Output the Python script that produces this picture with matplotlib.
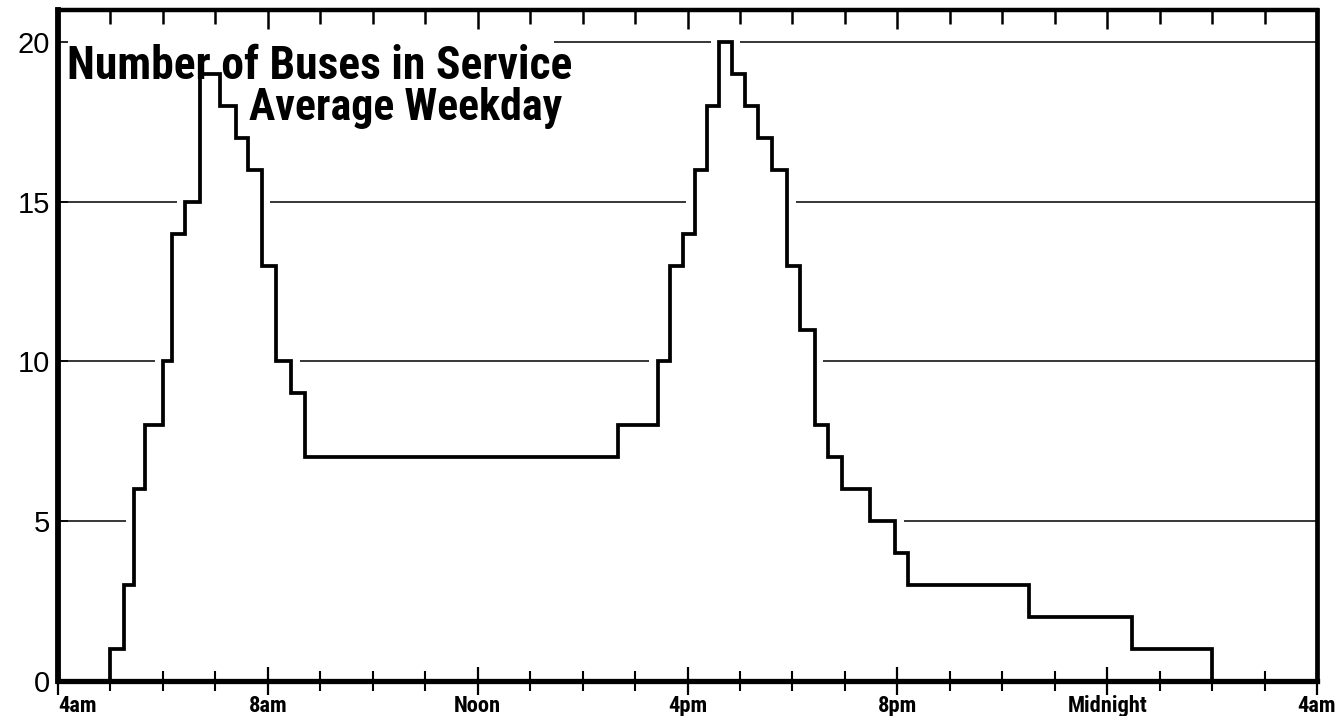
import os
import matplotlib
matplotlib.use("Agg")
import matplotlib.pyplot as plt
from matplotlib import font_manager as fm
from matplotlib.ticker import FixedLocator, MultipleLocator
import numpy as np

# ---------------- data (clock hours; 28 = 4am next day) ----------------
step_edges = [4.0, 5.0, 5.26, 5.45, 5.65, 6.0, 6.18, 6.43, 6.7, 7.09, 7.4, 7.63,
              7.88, 8.16, 8.45, 8.7, 14.68, 15.43, 15.67, 15.91, 16.14, 16.37,
              16.61, 16.85, 17.09, 17.34, 17.61, 17.9, 18.15, 18.43, 18.68,
              18.95, 19.47, 19.96, 20.21, 22.51, 24.48, 26.0, 28.0]
buses = [0, 1, 3, 6, 8, 10, 14, 15, 19, 18, 17, 16, 13, 10, 9, 7,
         8, 10, 13, 14, 16, 18, 20, 19, 18, 17, 16, 13, 11, 8, 7,
         6, 5, 4, 3, 2, 1, 0]
hour_ticks = [4, 8, 12, 16, 20, 24, 28]
hour_labels = ["4am", "8am", "Noon", "4pm", "8pm", "Midnight", "4am"]
y_ticks = [0, 5, 10, 15, 20]
grid_levels = [5, 10, 15, 20]
title_line1 = "Number of Buses in Service"
title_line2 = "Average Weekday"


# ---------------- pick a condensed bold face if one is installed ----------------
def pick_condensed_bold():
    best, best_score = None, -1
    for f in fm.fontManager.ttflist:
        name = f.name.lower()
        fn = os.path.basename(f.fname).lower()
        if any(k in fn or k in name for k in ("mono", "serif", "italic", "oblique", "cjk")):
            continue
        if f.style != "normal":
            continue
        cond = ("narrow" in name or "narrow" in fn or "condensed" in name or "condensed" in fn
                or f.stretch in ("condensed", "semi-condensed", "extra-condensed", "ultra-condensed"))
        if not cond:
            continue
        w = f.weight if isinstance(f.weight, int) else {"bold": 700, "normal": 400}.get(f.weight, 400)
        score = 0
        if "bold" in fn or w >= 700:
            score += 10
        if "semibold" in fn or "extrabold" in fn or "black" in fn or "light" in fn or "thin" in fn:
            score -= 6
        if "semicondensed" in fn or "semi-condensed" in str(f.stretch):
            score -= 2
        if "extracondensed" in fn:
            score += 1
        for pref, bonus in (("liberation", 5), ("roboto", 4), ("dejavu", 3), ("opensans", 3), ("noto", 2)):
            if pref in fn:
                score += bonus
                break
        if score > best_score:
            best, best_score = f.fname, score
    if best is None:
        return fm.FontProperties(family=["DejaVu Sans"], weight="bold")
    return fm.FontProperties(fname=best)


COND = pick_condensed_bold()
REG = ["Liberation Sans", "DejaVu Sans"]

W, H = 1339, 716
fig = plt.figure(figsize=(W / 100, H / 100), dpi=100)
L, R, B, T = 58, 1317, 681, 10
ax = fig.add_axes([L / W, 1 - B / H, (R - L) / W, (B - T) / H])
ax.set_xlim(4, 28)
ax.set_ylim(0, 21)

# step curve
ax.stairs(buses, step_edges, color="black", lw=2.7, baseline=None, zorder=3)

# broken horizontal guide lines (only above the curve, with small gaps)
edges = np.array(step_edges)
vals = np.array(buses)
gap = 0.16
title_end = 13.45
n = len(vals)
for lev in grid_levels:
    below = vals < lev
    i = 0
    while i < n:
        if below[i]:
            j = i
            while j + 1 < n and below[j + 1]:
                j += 1
            x0, x1 = edges[i], edges[j + 1]
            if i > 0:
                x0 += gap
            if j + 1 < n:
                x1 -= gap
            if lev == 20:
                x0 = max(x0, title_end)
            if x1 > x0:
                ax.hlines(lev, x0, x1, color="black", lw=1.1, zorder=1)
            i = j + 1
        else:
            i += 1

# spines
for side, lw in (("left", 4.2), ("bottom", 3.8), ("top", 3.2), ("right", 3.4)):
    ax.spines[side].set_linewidth(lw)
    ax.spines[side].set_capstyle("projecting")

# x ticks (bottom: crossing the axis)
ax.xaxis.set_major_locator(FixedLocator(hour_ticks))
ax.xaxis.set_minor_locator(MultipleLocator(1))
ax.set_xticklabels(hour_labels)
ax.tick_params(axis="x", which="major", direction="inout", length=20, width=1.6, pad=0)
ax.tick_params(axis="x", which="minor", direction="inout", length=14, width=1.5)
xlabs = ax.get_xticklabels()
for t in xlabs:
    t.set_fontproperties(COND)
    t.set_fontsize(15)
xlabs[0].set_horizontalalignment("left")

# y ticks
ax.set_yticks(y_ticks)
ax.set_yticklabels([str(v) for v in y_ticks], fontfamily=REG, fontsize=21)
ax.tick_params(axis="y", direction="in", length=7, width=1.2, pad=6)

# top ticks (inward only)
axt = ax.twiny()
axt.set_xlim(4, 28)
axt.xaxis.set_major_locator(FixedLocator(hour_ticks))
axt.xaxis.set_minor_locator(MultipleLocator(1))
axt.tick_params(axis="x", which="major", direction="in", length=14, width=1.8, labeltop=False)
axt.tick_params(axis="x", which="minor", direction="in", length=10, width=1.8)
for s in axt.spines.values():
    s.set_visible(False)

# title
t1 = fig.text(67 / W, 1 - 79 / H, title_line1, ha="left", va="baseline",
              fontproperties=COND, fontsize=30)
t2 = fig.text(562 / W, 1 - 120 / H, title_line2, ha="right", va="baseline",
              fontproperties=COND, fontsize=30)

# fit text widths to the reference
fig.canvas.draw()
rend = fig.canvas.get_renderer()
w1 = t1.get_window_extent(rend).width
fs_title = 30 * 506.0 / w1
t1.set_fontsize(fs_title)
t2.set_fontsize(fs_title * 0.96)
mid = xlabs[5]
wm = mid.get_window_extent(rend).width
fs_x = 15 * 80.0 / wm
for t in ax.get_xticklabels():
    t.set_fontsize(fs_x)

fig.savefig("out.png", dpi=100, facecolor="white")
